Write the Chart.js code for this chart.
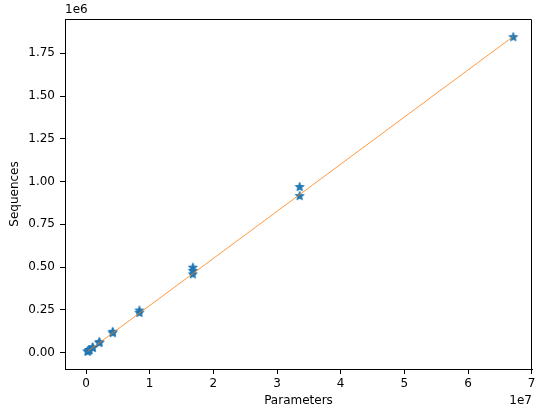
<!DOCTYPE html>
<html><head><meta charset="utf-8">
<script src="https://cdn.jsdelivr.net/npm/chart.js@4"></script>
<style>html,body{margin:0;padding:0;background:#fff}canvas{display:block}</style>
</head><body>
<canvas id="c" width="535" height="412" style="width:535px;height:412px"></canvas>
<script>
const parameters = [262144, 262144, 524288, 524288, 1048576, 1048576, 2097152, 2097152,
  4194304, 4194304, 8388608, 8388608, 16777216, 16777216, 16777216, 33554432, 33554432, 67108864];
const sequences = [8000, 6500, 16000, 13500, 31000, 27500, 62000, 56500,
  122000, 114000, 246000, 232000, 497000, 478000, 458000, 968000, 915000, 1844000];
const fitParameters = [262144, 67108864];
const fitSequences = [7200, 1848000];
const xTickValues = [0, 1e7, 2e7, 3e7, 4e7, 5e7, 6e7, 7e7];
const xTickLabels = ['0', '1', '2', '3', '4', '5', '6', '7'];
const yTickValues = [0, 250000, 500000, 750000, 1000000, 1250000, 1500000, 1750000];
const yTickLabels = ['0.00', '0.25', '0.50', '0.75', '1.00', '1.25', '1.50', '1.75'];

const FONT = 'DejaVu Sans';
function makeStar(r, color) {
  const size = Math.ceil(r * 2 + 2);
  const cv = document.createElement('canvas');
  cv.width = size; cv.height = size;
  const g = cv.getContext('2d');
  const cx = size / 2, cy = size / 2, ri = r * 0.42;
  g.beginPath();
  for (let i = 0; i < 10; i++) {
    const rr = i % 2 === 0 ? r : ri;
    const a = -Math.PI / 2 + i * Math.PI / 5;
    const px = cx + rr * Math.cos(a), py = cy + rr * Math.sin(a);
    if (i === 0) g.moveTo(px, py); else g.lineTo(px, py);
  }
  g.closePath();
  g.fillStyle = color; g.fill();
  g.strokeStyle = color; g.lineWidth = 1; g.lineJoin = 'round'; g.stroke();
  return cv;
}
const star = makeStar(4.6, '#1f77b4');

const textPlugin = {
  id: 'texts',
  afterDraw(chart) {
    const ctx = chart.ctx, a = chart.chartArea;
    ctx.save();
    ctx.strokeStyle = '#000'; ctx.lineWidth = 1;
    const L = Math.round(a.left) + 0.5, T = Math.round(a.top) + 0.5;
    const R = Math.round(a.right) - 0.5, B = Math.round(a.bottom) + 0.5;
    ctx.beginPath();
    ctx.moveTo(L, T); ctx.lineTo(R, T); ctx.lineTo(R, B);
    ctx.stroke();
    ctx.fillStyle = '#000';
    ctx.font = '12px "' + FONT + '"';
    ctx.textBaseline = 'middle';
    ctx.textAlign = 'left';
    ctx.fillText('1e6', a.left, 10);
    ctx.textAlign = 'right';
    ctx.fillText('1e7', a.right, 401);
    ctx.textAlign = 'center';
    ctx.fillText('Parameters', (a.left + a.right) / 2, 401);
    ctx.translate(15, (a.top + a.bottom) / 2);
    ctx.rotate(-Math.PI / 2);
    ctx.fillText('Sequences', 0, 0);
    ctx.restore();
  }
};

const pts = parameters.map((x, i) => ({ x, y: sequences[i] }));
const fit = fitParameters.map((x, i) => ({ x, y: fitSequences[i] }));

function axisCommon(values, labels, isY) {
  return {
    type: 'linear',
    afterBuildTicks(s) { s.ticks = values.map(v => ({ value: v })); },
    afterFit(s) {
      if (isY) { s.width = 65; s.paddingTop = 0; s.paddingBottom = 0; }
      else { s.height = 43; s.paddingLeft = 0; s.paddingRight = 0; }
    },
    ticks: {
      autoSkip: false, maxRotation: 0, minRotation: 0,
      color: '#000', padding: isY ? 5 : 3,
      font: { family: FONT, size: 12 },
      callback(v) { const i = values.indexOf(v); return i >= 0 ? labels[i] : ''; }
    },
    grid: { display: true, drawOnChartArea: false, drawTicks: true, tickLength: 5, tickColor: '#000', tickWidth: 1 },
    border: { display: true, color: '#000', width: 1 }
  };
}
const xs = axisCommon(xTickValues, xTickLabels, false);
xs.min = -3300000; xs.max = 70050000;
const ys = axisCommon(yTickValues, yTickLabels, true);
ys.min = -95300; ys.max = 1950000;

new Chart(document.getElementById('c'), {
  type: 'scatter',
  data: {
    datasets: [
      { type: 'line', data: fit, borderColor: '#ff7f0e', borderWidth: 0.8, pointRadius: 0, fill: false, tension: 0, order: 0 },
      { type: 'scatter', data: pts, pointStyle: star, pointRadius: 5, backgroundColor: '#1f77b4', borderColor: '#1f77b4', order: 1 }
    ]
  },
  options: {
    responsive: false, animation: false, devicePixelRatio: 1,
    layout: { autoPadding: false, padding: { top: 19, right: 3, left: 0, bottom: 0 } },
    plugins: { legend: { display: false }, tooltip: { enabled: false } },
    scales: { x: xs, y: ys }
  },
  plugins: [textPlugin]
});
</script>
</body></html>
